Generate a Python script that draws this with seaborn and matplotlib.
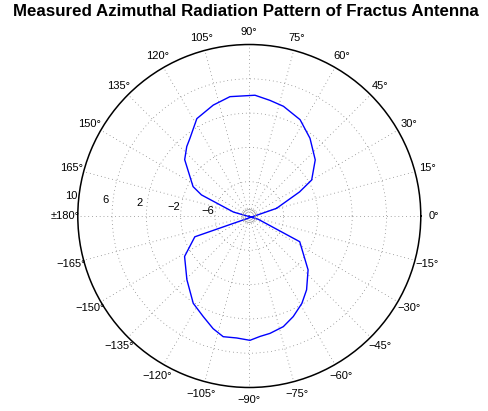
import numpy as np
import pandas as pd
import matplotlib
matplotlib.use("Agg")
import matplotlib.pyplot as plt
import seaborn as sns

# Measured gain (dB) of the two main lobes, angle in degrees
upper_angle = [15.7, 25.6, 30.0, 40.4, 52.0, 62.2, 72.7, 79.9, 87.3, 99.2,
               108.0, 118.3, 127.4, 132.0, 138.9, 152.4, 156.2, 166.0]
upper_db = [-6.7, -3.5, -1.6, 0.1, 1.5, 2.7, 3.4, 3.7, 4.1, 4.1,
            3.6, 2.9, 1.4, 0.9, 0.0, -2.6, -3.9, -8.1]

lower_angle = [-159.1, -148.0, -134.4, -122.7, -114.6, -107.8, -102.2, -95.9,
               -89.7, -84.9, -80.0, -72.9, -66.4, -59.0, -52.2, -42.5, -27.0, -20.0]
lower_db = [-3.2, -1.1, 0.4, 2.1, 2.9, 3.8, 4.4, 4.3,
            4.5, 4.1, 3.9, 3.5, 2.8, 1.9, 0.9, -0.7, -3.4, -8.9]

ring_values = [-6, -2, 2, 6, 10]
ring_labels = ["\u22126", "\u22122", "2", "6", "10"]
r_min, r_max = -10, 10
inner_ring = -9.25

theta_ticks = list(range(0, 360, 15))
theta_labels = ["0\u00b0", "15\u00b0", "30\u00b0", "45\u00b0", "60\u00b0", "75\u00b0",
                "90\u00b0", "105\u00b0", "120\u00b0", "135\u00b0", "150\u00b0", "165\u00b0",
                "\u00b1180\u00b0", "\u2212165\u00b0", "\u2212150\u00b0", "\u2212135\u00b0",
                "\u2212120\u00b0", "\u2212105\u00b0", "\u221290\u00b0", "\u221275\u00b0",
                "\u221260\u00b0", "\u221245\u00b0", "\u221230\u00b0", "\u221215\u00b0"]

title = "Measured Azimuthal Radiation Pattern of Fractus Antenna"

sns.set_theme(style="white")
plt.rcParams["font.family"] = ["Liberation Sans", "DejaVu Sans"]

fig = plt.figure(figsize=(4.89, 4.11), dpi=100)
ax = fig.add_axes([0.1591, 0.0572, 0.7014, 0.8345], projection="polar")

# trace: upper lobe counter-clockwise, lower lobe clockwise, closed through the origin
path_angle = upper_angle + lower_angle[::-1] + upper_angle[:1]
path_db = upper_db + lower_db[::-1] + upper_db[:1]
df = pd.DataFrame({"theta": np.deg2rad(path_angle), "level": path_db})
sns.lineplot(data=df, x="theta", y="level", sort=False, estimator=None,
             color="blue", lw=1.0, ax=ax)

ax.set_ylim(r_min, r_max)
ax.set_xlabel("")
ax.set_ylabel("")
ax.set_xticks(np.deg2rad(theta_ticks))
ax.set_xticklabels([])
ax.set_yticks(ring_values[:-1])
ax.set_yticklabels([])
ax.tick_params(length=0)
ax.grid(True, color="0.45", lw=0.55, linestyle=(0, (1.0, 4.0)))
ax.spines["polar"].set_color("black")
ax.spines["polar"].set_linewidth(1.1)

# small solid ring around the origin
circ = np.linspace(0, 2 * np.pi, 200)
ax.plot(circ, np.full_like(circ, inner_ring), color="0.6", lw=0.6)

# angle labels outside the outer circle
for ang, lab in zip(theta_ticks, theta_labels):
    ax.text(np.deg2rad(ang), 11.5, lab, ha="center", va="center",
            fontsize=8, color="black", clip_on=False)

# ring value labels along the left side
for val, lab in zip(ring_values, ring_labels):
    ax.text(np.deg2rad(173.5), val + 0.9, lab, ha="center", va="center",
            fontsize=8, color="black", clip_on=False)

fig.text(0.503, 1 - 12 / 411, title, ha="center", va="center",
         fontsize=12.2, fontweight="bold", color="black")

fig.savefig("out.png", dpi=100, facecolor="white")
